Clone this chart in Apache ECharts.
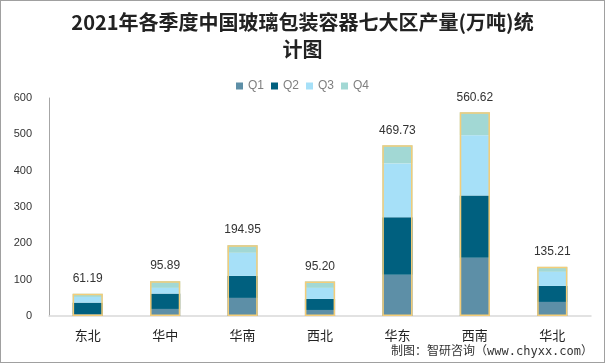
<!DOCTYPE html>
<html><head><meta charset="utf-8">
<script src="https://cdn.jsdelivr.net/npm/echarts@6/dist/echarts.min.js"></script>
<style>
html,body{margin:0;padding:0;background:#fff;}
#c{width:603px;height:361px;border:1px solid #a0a0a0;}
</style></head>
<body><div id="c"></div>
<script>
const categories = ['东北','华中','华南','西北','华东','西南','华北'];
const q1 = [5.5, 19.4, 49.8, 16.6, 113.4, 160.4, 38.7];
const q2 = [31.3, 42.3, 60.8, 30.4, 158.4, 171.4, 44.2];
const q3 = [15.7, 15.7, 63.4, 30.4, 148.2, 165.8, 38.7];
const q4 = [8.69, 18.49, 20.95, 17.8, 49.73, 63.02, 13.61];
const totals = [61.19, 95.89, 194.95, 95.20, 469.73, 560.62, 135.21];
const yTicks = [0,100,200,300,400,500,600];

const chart = echarts.init(document.getElementById('c'));
const colors = ['#5d8fa7','#00607f','#a6e0f8','#a2d8d4'];
const names = ['Q1','Q2','Q3','Q4'];
const datas = [q1,q2,q3,q4];
const series = names.map((n,i)=>({
  name:n, type:'bar', stack:'s', data:datas[i], barWidth:'39%',
  itemStyle:{color:colors[i]}, silent:true
}));
series.push({
  name:'total', type:'bar', data:totals, barWidth:'39%', barGap:'-100%', z:5,
  itemStyle:{color:'rgba(0,0,0,0)', borderColor:'#f4cd78', borderWidth:1.5},
  label:{show:true, position:'top', distance:9, color:'#333', fontSize:12,
    fontFamily:'Liberation Sans, Arial, sans-serif', formatter:p=>p.value.toFixed(2)}
});
chart.setOption({
  animation:false,
  title:{text:'2021年各季度中国玻璃包装容器七大区产量(万吨)统\n计图', left:'center', top:3,
    textStyle:{fontSize:20, fontWeight:'bold', color:'#222', lineHeight:27,
      fontFamily:'Noto Sans CJK SC, sans-serif'}},
  legend:{data:names, top:74, left:'center', itemWidth:7, itemHeight:7, itemGap:7,
    icon:'rect', textStyle:{color:'#7f7f7f', fontSize:12, fontFamily:'Liberation Sans, Arial, sans-serif'}},
  grid:{left:48, right:13, top:97, bottom:46, containLabel:false},
  xAxis:{type:'category', data:categories,
    axisLine:{lineStyle:{color:'#d9d9d9', width:1.5}}, axisTick:{show:false},
    axisLabel:{color:'#222', fontSize:13, margin:13, fontFamily:'Noto Sans CJK SC, sans-serif'}},
  yAxis:{type:'value', min:0, max:600, interval:100,
    axisLine:{show:true, lineStyle:{color:'#a6a6a6'}}, axisTick:{show:false},
    splitLine:{show:false},
    axisLabel:{color:'#333', fontSize:11, margin:17, fontFamily:'Liberation Sans, Arial, sans-serif',
      formatter:v=>yTicks.includes(v)?String(v):''}},
  graphic:[{type:'text', right:11, top:345,
    style:{text:'制图：智研咨询（www.chyxx.com）', fill:'#333',
      font:'12px "DejaVu Sans Mono", "Noto Sans CJK SC", monospace'}}],
  series:series
});
</script></body></html>
